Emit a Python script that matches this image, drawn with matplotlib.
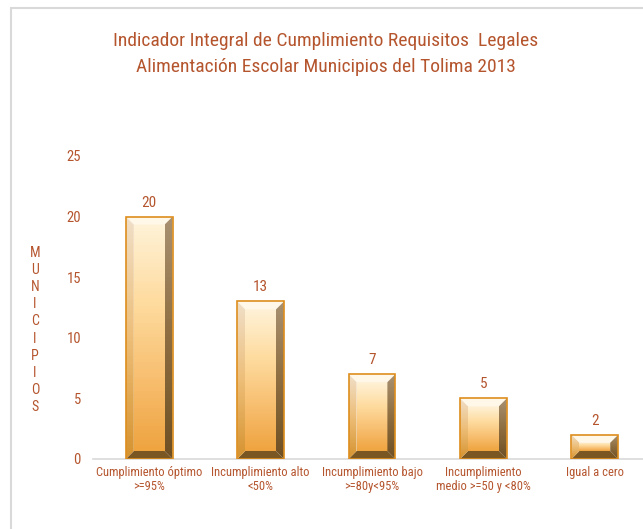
import matplotlib
matplotlib.use("Agg")
import matplotlib.pyplot as plt
import numpy as np
from matplotlib.colors import LinearSegmentedColormap
from matplotlib.patches import Polygon, Rectangle

plt.rcParams['font.family'] = ['Roboto Condensed', 'Liberation Sans Narrow', 'Roboto', 'DejaVu Sans']

# datos
categorias = ["Cumplimiento óptimo\n>=95%", "Incumplimiento alto\n<50%",
              "Incumplimiento bajo\n>=80y<95%", "Incumplimiento\nmedio >=50 y <80%",
              "Igual a cero"]
municipios = [20, 13, 7, 5, 2]
yticks = [0, 5, 10, 15, 20, 25]

titulo = "Indicador Integral de Cumplimiento Requisitos  Legales\nAlimentación Escolar Municipios del Tolima 2013"
etiqueta_y = "MUNICIPIOS"

cafe = "#B5552E"

fig = plt.figure(figsize=(6.43, 5.29), dpi=100)
ax = fig.add_axes([93.5 / 643, 70 / 529, 557 / 643, 303 / 529])

x = np.arange(len(categorias))
barras = ax.bar(x, municipios, width=0.42, color="none", edgecolor="none", zorder=1)

# degradados de arriba hacia abajo
cara = LinearSegmentedColormap.from_list("cara", ["#FFF1D6", "#FEDCA0", "#F8C072", "#EFA440"])
izq = LinearSegmentedColormap.from_list("izq", ["#F0DFC8", "#EDBE78", "#D69330"])
der = LinearSegmentedColormap.from_list("der", ["#A89070", "#8E6E40", "#6E5024"])

# escala de px a unidades de datos para el bisel
px_x = 1.0 / 111.4
px_y = 25.0 / 303
bx, by = 8 * px_x, 8 * px_y

for b in barras:
    x0, w, h = b.get_x(), b.get_width(), b.get_height()
    x1 = x0 + w
    ix0, ix1, iy0, iy1 = x0 + bx, x1 - bx, by, h - by
    grad = np.linspace(0, 1, 64).reshape(-1, 1)
    # cara frontal
    ax.imshow(grad, cmap=cara, extent=[ix0, ix1, iy0, iy1], aspect="auto", zorder=2)
    # biseles
    sup = Polygon([(x0, h), (x1, h), (ix1, iy1), (ix0, iy1)], closed=True,
                  facecolor="#FFF7E8", edgecolor="none", zorder=3)
    inf = Polygon([(x0, 0), (x1, 0), (ix1, iy0), (ix0, iy0)], closed=True,
                  facecolor="#7A5722", edgecolor="none", zorder=3)
    pl = Polygon([(x0, 0), (x0, h), (ix0, iy1), (ix0, iy0)], closed=True,
                 facecolor="none", edgecolor="none", zorder=3)
    pr = Polygon([(x1, 0), (x1, h), (ix1, iy1), (ix1, iy0)], closed=True,
                 facecolor="none", edgecolor="none", zorder=3)
    for p in (sup, inf, pl, pr):
        ax.add_patch(p)
    im_l = ax.imshow(grad, cmap=izq, extent=[x0, ix0, 0, h], aspect="auto", zorder=3)
    im_l.set_clip_path(pl)
    im_r = ax.imshow(grad, cmap=der, extent=[ix1, x1, 0, h], aspect="auto", zorder=3)
    im_r.set_clip_path(pr)
    ax.add_patch(Rectangle((x0, 0), w, h, facecolor="none", edgecolor="#DE8E1E",
                           linewidth=1.2, zorder=4))
    ax.annotate(f"{h:g}", (x0 + w / 2, h), xytext=(0, 5), textcoords="offset points",
                ha="center", va="bottom", color=cafe, fontsize=11)

ax.set_xlim(-0.5, len(categorias) - 0.5)
ax.set_ylim(0, 25)
ax.set_yticks(yticks)
ax.set_xticks(x)
ax.set_xticklabels(categorias, fontsize=9, color=cafe, linespacing=1.1)
ax.tick_params(axis="y", length=0, labelsize=10.5, labelcolor=cafe, pad=9)
ax.tick_params(axis="x", length=0, pad=5)
for s in ["top", "right", "left"]:
    ax.spines[s].set_visible(False)
ax.spines["bottom"].set_color("#D9D9D9")
ax.spines["bottom"].set_linewidth(1.2)

fig.text(326 / 643, 1 - 54 / 529, titulo, ha="center", va="center", color=cafe,
         fontsize=14, linespacing=1.5)
fig.text(35 / 643, 1 - 330 / 529, "\n".join(etiqueta_y), ha="center", va="center",
         color=cafe, fontsize=10, linespacing=1.29)

# marco del área del gráfico
fig.add_artist(Rectangle((11 / 643, -0.1), 1.2, 1 - 8 / 529 + 0.1, transform=fig.transFigure,
                         facecolor="none", edgecolor="#D9D9D9", linewidth=1.5, clip_on=False))

fig.savefig("out.png", dpi=100)
